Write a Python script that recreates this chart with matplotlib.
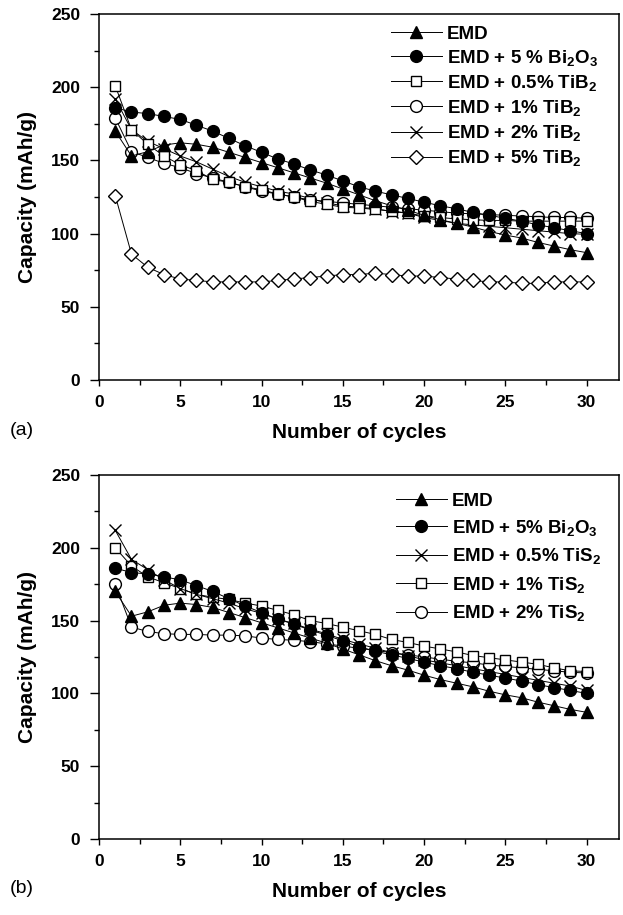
import numpy as np
import matplotlib
matplotlib.use('Agg')
import matplotlib.pyplot as plt
from matplotlib.ticker import MultipleLocator

plt.rcParams['font.family'] = ['Liberation Sans', 'DejaVu Sans']
plt.rcParams['font.weight'] = 'bold'
plt.rcParams['mathtext.fontset'] = 'custom'
plt.rcParams['mathtext.rm'] = 'Liberation Sans:bold'
plt.rcParams['mathtext.it'] = 'Liberation Sans:bold'
plt.rcParams['mathtext.bf'] = 'Liberation Sans:bold'

### data (capacity in mAh/g)
cycles = np.arange(1, 31)

emd = [170, 153, 156, 160.5, 162, 161, 159, 155.5, 152, 148.5,
       145, 141.5, 138, 134.5, 130.5, 126.5, 122.5, 119, 116, 112.5,
       109.5, 107, 104.5, 101.5, 99, 97, 94, 91.5, 89, 87]
bi2o3 = [186, 183, 182, 180, 178, 174, 170, 165, 160, 155.5,
         151, 147.5, 143.5, 140, 136, 132, 129, 126.5, 124, 121.5,
         119, 117, 114.5, 112.5, 110.5, 108.5, 106, 104, 102, 100]

# panel (a): TiB2 additions
tib2_05 = [201, 171, 161, 153, 147, 143, 137, 135, 132, 130,
           127, 125, 122, 120, 118, 117.5, 116.5, 115.5, 114, 112,
           111, 110, 109.5, 109, 109, 108.5, 108.5, 108.5, 108.5, 108.5]
tib2_1 = [179, 156, 152, 148, 145, 141, 138, 135, 132, 129,
          127, 125, 123, 122, 121, 120, 119, 118, 117, 116,
          115, 114, 113.5, 113, 112.5, 112, 111.5, 111, 111, 110.5]
tib2_2 = [192, 171, 163, 158, 153, 149, 144, 139, 135, 132,
          129, 127, 124, 121, 119, 118, 117, 115, 114, 111,
          109, 107, 106, 105, 104, 103, 102, 101, 100, 99.5]
tib2_5 = [126, 86, 77, 72, 69, 68, 67, 67, 67, 67,
          68, 69, 70, 71, 72, 72, 73, 72, 71, 71,
          70, 69, 68, 67, 67, 66, 66, 67, 67, 67]

# panel (b): TiS2 additions
tis2_05 = [212, 192, 185, 178, 172, 168, 165, 162, 158, 155,
           151, 148, 144, 141, 137, 134, 131, 128, 126, 123,
           121, 119, 117, 115, 113, 111, 109, 107, 105, 102]
tis2_1 = [200, 187.5, 180, 176, 172, 168, 166, 164.5, 162, 160,
          157, 154, 150, 148, 145.5, 143, 140.5, 137, 135, 132.5,
          130.5, 128.5, 126, 124.5, 123, 121.5, 120, 117.5, 115.5, 115]
tis2_2 = [175, 145.5, 142.5, 141, 140.5, 140.5, 140, 140, 139.5, 138,
          137, 136.5, 135.5, 134, 132.5, 131, 129.5, 128, 126.5, 125,
          123.5, 122, 121, 119.5, 118.5, 117.5, 116.5, 115.5, 114.5, 114]

labels_a = ['EMD', r'EMD + 5 % Bi$_2$O$_3$', r'EMD + 0.5% TiB$_2$',
            r'EMD + 1% TiB$_2$', r'EMD + 2% TiB$_2$', r'EMD + 5% TiB$_2$']
labels_b = ['EMD', r'EMD + 5% Bi$_2$O$_3$', r'EMD + 0.5% TiS$_2$',
            r'EMD + 1% TiS$_2$', r'EMD + 2% TiS$_2$']

series_a = [emd, bi2o3, tib2_05, tib2_1, tib2_2, tib2_5]
series_b = [emd, bi2o3, tis2_05, tis2_1, tis2_2]

# marker style for each series: (marker, face, size)
style_a = [('^', 'black', 9), ('o', 'black', 8.5), ('s', 'white', 7.5),
           ('o', 'white', 8.5), ('x', 'white', 8.5), ('D', 'white', 7.2)]
style_b = [('^', 'black', 9), ('o', 'black', 8.5), ('x', 'white', 8.5),
           ('s', 'white', 7.5), ('o', 'white', 8.5)]


def draw_panel(ax, series, styles, labels, leg_x, leg_y, leg_sp):
    handles = []
    n = len(series)
    for i, (vals, (mk, fc, ms), lab) in enumerate(zip(series, styles, labels)):
        h, = ax.plot(cycles, vals, color='black', lw=0.7, marker=mk,
                     markersize=ms, markerfacecolor=fc,
                     markeredgecolor='black', markeredgewidth=1.0,
                     label=lab, zorder=10 + n - i, clip_on=False)
        handles.append(h)
    ax.set_xlim(0, 32)
    ax.set_ylim(0, 250)
    ax.xaxis.set_minor_locator(MultipleLocator(2.5))
    ax.yaxis.set_major_locator(MultipleLocator(50))
    ax.yaxis.set_minor_locator(MultipleLocator(25))
    ax.set_xticks(np.arange(0, 31, 5))
    ax.tick_params(axis='x', which='major', direction='out', length=4.5,
                   width=1.0, labelsize=12.5, pad=6)
    ax.tick_params(axis='y', which='major', direction='out', length=6.5,
                   width=1.0, labelsize=12.5, pad=7)
    ax.tick_params(which='minor', direction='out', length=3.5, width=1.0)
    for sp in ax.spines.values():
        sp.set_linewidth(1.1)
    ax.set_xlabel('Number of cycles', fontsize=15, fontweight='bold', labelpad=10)
    ax.set_ylabel('Capacity (mAh/g)', fontsize=15, fontweight='bold', labelpad=10)
    leg = ax.legend(handles=handles, loc='upper left',
                    bbox_to_anchor=(leg_x, leg_y), frameon=False,
                    fontsize=13.5, handlelength=2.7, handletextpad=0.28,
                    labelspacing=leg_sp, borderpad=0, borderaxespad=0)
    for t in leg.get_texts():
        t.set_fontweight('bold')


fig = plt.figure(figsize=(6.23, 9.15), dpi=100)
ax1 = fig.add_axes([0.1589, 0.5847, 0.8347, 0.4])
ax2 = fig.add_axes([0.1589, 0.0831, 0.8347, 0.3978])

draw_panel(ax1, series_a, style_a, labels_a, 0.5615, 0.968, 0.27)
draw_panel(ax2, series_b, style_b, labels_b, 0.571, 0.952, 0.45)

fig.text(0.016, 0.525, '(a)', fontsize=14, fontweight='normal')
fig.text(0.016, 0.024, '(b)', fontsize=14, fontweight='normal')

fig.savefig('out.png', dpi=100)
